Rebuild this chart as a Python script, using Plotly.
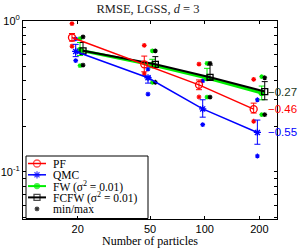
import numpy as np
import plotly.graph_objects as go

# ---------------- data ----------------
N = [20, 50, 100, 200]
series_names = ["PF", "QMC", "FW (σ<sup>2</sup> = 0.01)", "FCFW (σ<sup>2</sup> = 0.01)"]

pf_mean = [0.777, 0.516, 0.377, 0.260]
qmc_mean = [0.628, 0.420, 0.261, 0.182]
fw_mean = [0.640, 0.510, 0.418, 0.333]
fcfw_mean = [0.634, 0.516, 0.423, 0.340]

pf_hi = [0.826, 0.585, 0.406, 0.285]
pf_lo = [0.735, 0.460, 0.350, 0.245]
qmc_hi = [0.700, 0.430, 0.300, 0.220]
qmc_lo = [0.580, 0.387, 0.230, 0.152]
fw_hi = [0.720, 0.557, 0.485, 0.370]
fw_lo = [0.590, 0.490, 0.406, 0.300]
fcfw_hi = [0.720, 0.580, 0.510, 0.396]
fcfw_lo = [0.600, 0.490, 0.410, 0.300]

pf_max = [0.960, 0.690, 0.518, 0.410]
pf_min = [0.680, 0.445, 0.313, 0.216]
qmc_max = [0.760, 0.480, 0.400, 0.300]
qmc_min = [0.545, 0.327, 0.205, 0.127]
fw_max = [0.765, 0.634, 0.524, 0.427]
fw_min = [0.505, 0.392, 0.312, 0.239]
fcfw_max = [0.784, 0.634, 0.524, 0.420]
fcfw_min = [0.510, 0.392, 0.312, 0.239]

slope_labels = ["−0.46", "−0.55", None, "−0.27"]

y_major = [0.1, 1.0]
y_tick_labels = ["10<sup>-1</sup>", "10<sup>0</sup>"]
x_ticks = [20, 50, 100, 200]

# ---------------- styling ----------------
colors = ["#ff0000", "#0000ff", "#00ee00", "#000000"]
label_colors = ["#ff0000", "#0000ff", None, "#1c3a1c"]
offsets = [0.93, 0.975, 1.03, 1.07]
symbols = ["circle-open", "asterisk-open", "circle", "square-open"]
msizes = [7, 6, 5, 6]
lwidths = [1.5, 1.5, 3.0, 2.0]
serif = "Liberation Serif, Times New Roman, serif"
sans = "Liberation Sans, Arial, sans-serif"

means = [pf_mean, qmc_mean, fw_mean, fcfw_mean]
his = [pf_hi, qmc_hi, fw_hi, fcfw_hi]
los = [pf_lo, qmc_lo, fw_lo, fcfw_lo]
maxs = [pf_max, qmc_max, fw_max, fcfw_max]
mins = [pf_min, qmc_min, fw_min, fcfw_min]

fig = go.Figure()

for i in [0, 1, 2, 3]:
    xs = [n * offsets[i] for n in N]
    # min / max markers
    fig.add_trace(go.Scatter(
        x=xs + xs, y=maxs[i] + mins[i], mode="markers",
        marker=dict(symbol="asterisk-open", size=4, color=colors[i],
                    line=dict(width=1.2, color=colors[i])),
        showlegend=False, hoverinfo="skip"))

for i in [2, 3, 0, 1]:
    xs = [n * offsets[i] for n in N]
    m = np.array(means[i])
    fig.add_trace(go.Scatter(
        x=xs, y=means[i], mode="lines+markers",
        line=dict(color=colors[i], width=lwidths[i]),
        marker=dict(symbol=symbols[i], size=msizes[i], color=colors[i],
                    line=dict(width=1.3, color=colors[i])),
        error_y=dict(type="data", symmetric=False,
                     array=list(np.array(his[i]) - m),
                     arrayminus=list(m - np.array(los[i])),
                     color=colors[i], thickness=1, width=3),
        showlegend=False))

# slope annotations
for i in range(4):
    if slope_labels[i] is None:
        continue
    fig.add_annotation(
        x=np.log10(N[-1] * 1.09), y=np.log10(means[i][-1]),
        xref="x", yref="y", text=slope_labels[i], showarrow=False,
        xanchor="left", yanchor="middle",
        font=dict(family=sans, size=11.5, color=label_colors[i]))

# ---------------- manual legend (pixel overlay axes) ----------------
leg_rows = [163.5, 174.8, 186.1, 197.4, 208.9]
leg_x0, leg_x1, leg_xm = 28, 46, 37
for r in range(4):
    y = leg_rows[r]
    fig.add_trace(go.Scatter(
        x=[leg_x0, leg_xm, leg_x1], y=[y, y, y], xaxis="x2", yaxis="y2",
        mode="lines+markers",
        line=dict(color=colors[r], width=min(lwidths[r], 2.0)),
        marker=dict(symbol=symbols[r], size=[0, msizes[r], 0], color=colors[r],
                    line=dict(width=1.3, color=colors[r])),
        showlegend=False, hoverinfo="skip"))
fig.add_trace(go.Scatter(
    x=[leg_xm], y=[leg_rows[4]], xaxis="x2", yaxis="y2", mode="markers",
    marker=dict(symbol="asterisk-open", size=4, color="#333333",
                line=dict(width=1.2, color="#333333")),
    showlegend=False, hoverinfo="skip"))
for r, name in enumerate(series_names + ["min/max"]):
    fig.add_annotation(x=51, y=leg_rows[r], xref="x2", yref="y2", text=name,
                       showarrow=False, xanchor="left", yanchor="middle",
                       font=dict(family=serif, size=11.5, color="#000000"))
fig.add_shape(type="rect", xref="x2", yref="y2", x0=26, x1=148, y0=156, y1=218.5,
              line=dict(color="#000000", width=1), fillcolor="rgba(255,255,255,1)",
              layer="below")

# ---------------- axes / layout ----------------
y_minor = [v * d for d in [0.01, 0.1] for v in range(5, 10)] + [0.1 * v for v in range(2, 10)]
y_ticks = sorted(set([round(v, 3) for v in y_minor] + y_major))
y_text = [y_tick_labels[y_major.index(v)] if v in y_major else "" for v in y_ticks]

fig.update_layout(
    width=299, height=248,
    margin=dict(l=23, r=22, t=21, b=29, autoexpand=False),
    paper_bgcolor="white", plot_bgcolor="white",
    title=dict(text="RMSE, LGSS, <i>d</i> = 3", x=0.495, xanchor="center",
               y=0.966, yanchor="middle",
               font=dict(family=serif, size=12.5, color="#222222")),
    xaxis=dict(type="log", range=[1.0, np.log10(250)], tickvals=x_ticks,
               ticktext=[str(v) for v in x_ticks], ticks="inside", ticklen=3,
               tickcolor="#000", showline=True, linecolor="#000", linewidth=1,
               mirror="ticks", showgrid=False, zeroline=False, automargin=False,
               tickfont=dict(family=sans, size=11, color="#000"),
               title=dict(text="Number of particles", standoff=0,
                          font=dict(family=serif, size=12, color="#000"))),
    yaxis=dict(type="log", range=[np.log10(0.0485), 0.0], tickvals=y_ticks,
               ticktext=y_text, ticks="inside", ticklen=3, tickcolor="#000",
               showline=True, linecolor="#000", linewidth=1, mirror="ticks",
               showgrid=False, zeroline=False, automargin=False,
               tickfont=dict(family=sans, size=11, color="#000")),
    xaxis2=dict(overlaying="x", range=[23, 277], visible=False, fixedrange=True),
    yaxis2=dict(overlaying="y", range=[219, 21], visible=False, fixedrange=True),
    showlegend=False,
)

fig.write_html("out.html", config={"displayModeBar": False, "staticPlot": True},
               post_script="document.body.style.margin='0';document.body.style.overflow='hidden';")
